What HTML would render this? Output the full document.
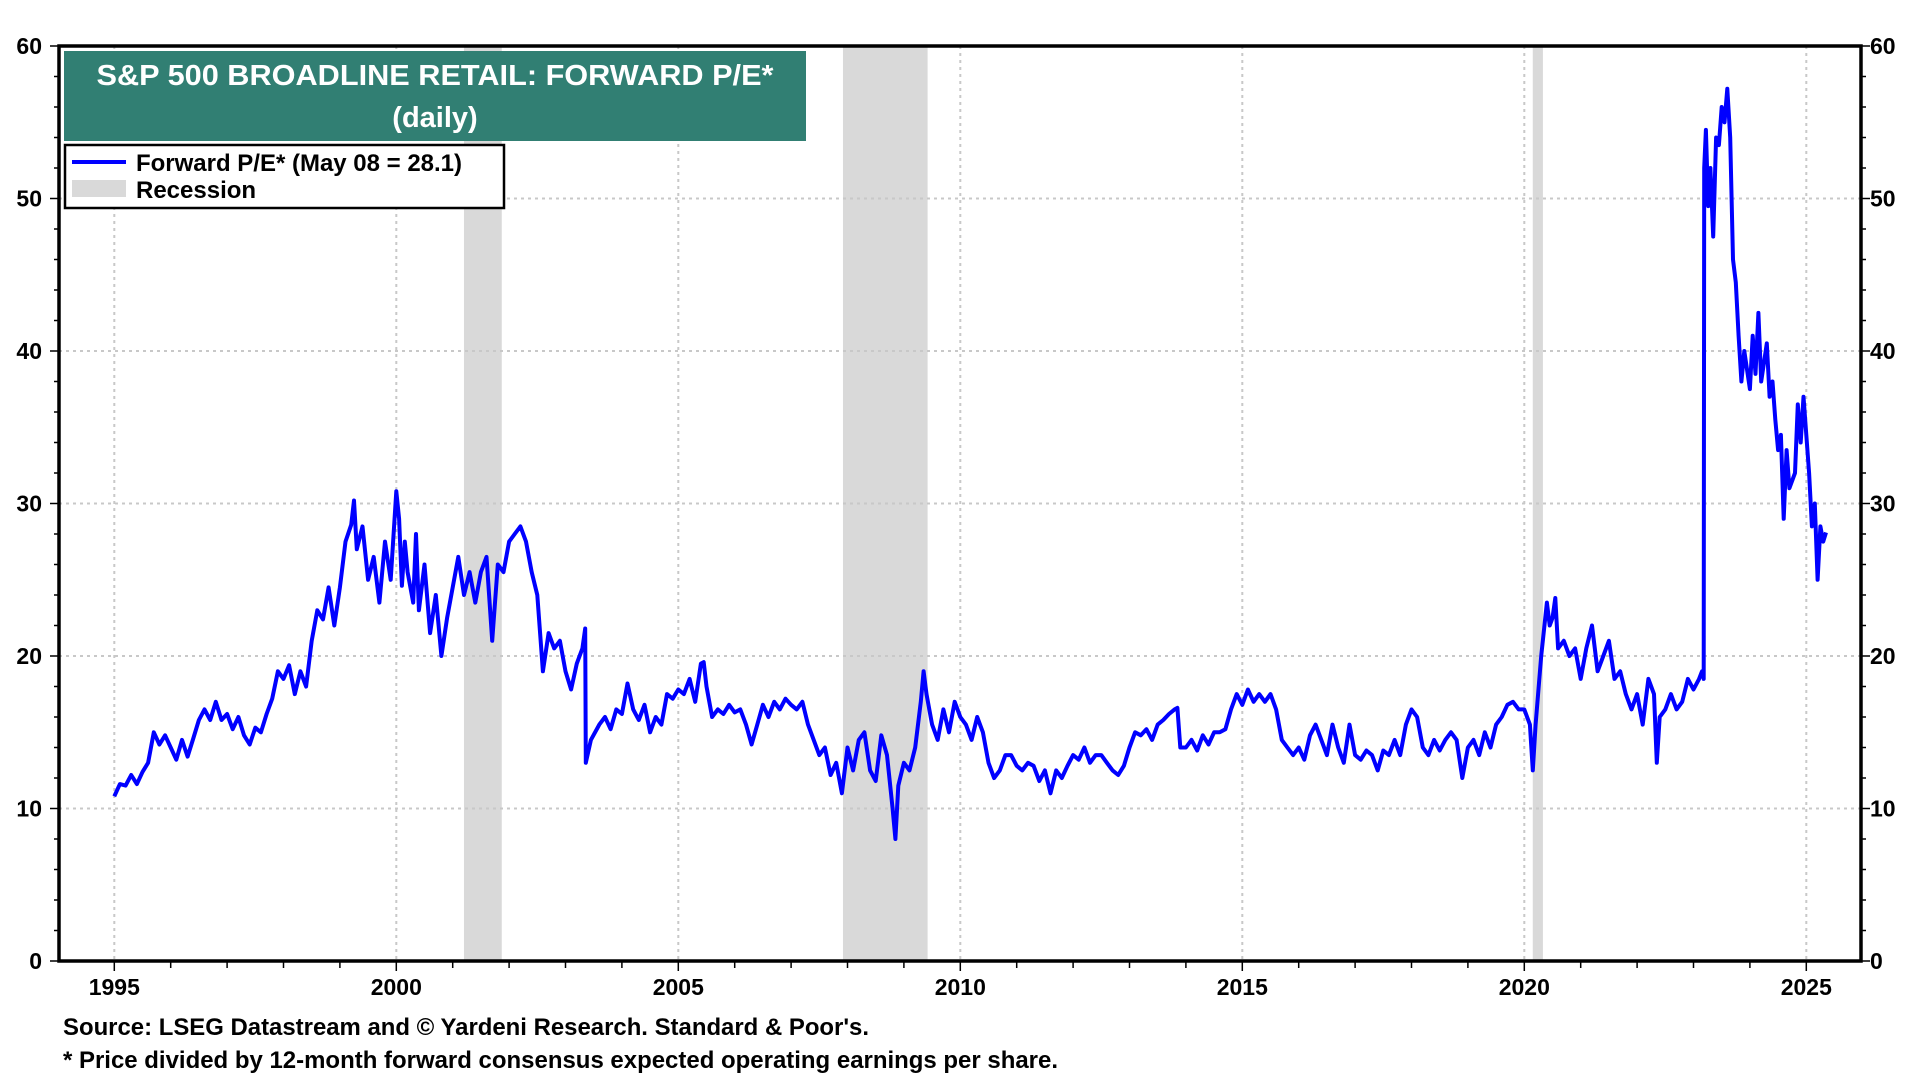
<!DOCTYPE html>
<html><head><meta charset="utf-8"><style>
html,body{margin:0;padding:0;background:#fff}
svg{display:block;font-family:"Liberation Sans",Arial,sans-serif;font-weight:bold}
</style></head><body>
<svg id="chart" width="1920" height="1080" viewBox="0 0 1920 1080">
<g id="bands"></g>
<g id="grid"></g>
<g id="axes"></g>
<path id="line" fill="none" stroke="#0000ff" stroke-width="4" stroke-linejoin="round"/>
<rect x="64" y="51" width="742" height="90" fill="#317f73"/>
<text x="435" y="85" text-anchor="middle" fill="#fff" font-size="29" textLength="677" lengthAdjust="spacingAndGlyphs">S&amp;P 500 BROADLINE RETAIL: FORWARD P/E*</text>
<text x="435" y="127" text-anchor="middle" fill="#fff" font-size="29">(daily)</text>
<g>
<rect x="65" y="145" width="439" height="63" fill="#fff" stroke="#000" stroke-width="2.5"/>
<line x1="72" y1="162" x2="126" y2="162" stroke="#0000ff" stroke-width="4"/>
<text x="136" y="171" font-size="24" textLength="326" lengthAdjust="spacingAndGlyphs">Forward P/E* (May 08 = 28.1)</text>
<rect x="72" y="180" width="54" height="17" fill="#d9d9d9"/>
<text x="136" y="198" font-size="24">Recession</text>
</g>
<text x="63" y="1035" font-size="24" textLength="806" lengthAdjust="spacingAndGlyphs">Source: LSEG Datastream and © Yardeni Research. Standard &amp; Poor's.</text>
<text x="63" y="1068" font-size="24" textLength="995" lengthAdjust="spacingAndGlyphs">* Price divided by 12-month forward consensus expected operating earnings per share.</text>
</svg>
<script>
const years = [1995.0,1995.1,1995.2,1995.3,1995.4,1995.5,1995.6,1995.7,1995.8,1995.9,1996.0,1996.1,1996.2,1996.3,1996.4,1996.5,1996.6,1996.7,1996.8,1996.9,1997.0,1997.1,1997.2,1997.3,1997.4,1997.5,1997.6,1997.7,1997.8,1997.9,1998.0,1998.1,1998.2,1998.3,1998.4,1998.5,1998.6,1998.7,1998.8,1998.9,1999.0,1999.1,1999.2,1999.25,1999.3,1999.4,1999.5,1999.6,1999.7,1999.8,1999.9,2000.0,2000.05,2000.1,2000.15,2000.2,2000.3,2000.35,2000.4,2000.5,2000.6,2000.7,2000.8,2000.9,2001.0,2001.1,2001.2,2001.3,2001.4,2001.5,2001.6,2001.7,2001.8,2001.9,2002.0,2002.1,2002.2,2002.3,2002.4,2002.5,2002.6,2002.7,2002.8,2002.9,2003.0,2003.1,2003.2,2003.3,2003.35,2003.36,2003.45,2003.6,2003.7,2003.8,2003.9,2004.0,2004.1,2004.2,2004.3,2004.4,2004.5,2004.6,2004.7,2004.8,2004.9,2005.0,2005.1,2005.2,2005.3,2005.4,2005.45,2005.5,2005.6,2005.7,2005.8,2005.9,2006.0,2006.1,2006.2,2006.3,2006.4,2006.5,2006.6,2006.7,2006.8,2006.9,2007.0,2007.1,2007.2,2007.3,2007.4,2007.5,2007.6,2007.7,2007.8,2007.9,2008.0,2008.1,2008.2,2008.3,2008.4,2008.5,2008.6,2008.7,2008.8,2008.85,2008.9,2009.0,2009.1,2009.2,2009.3,2009.35,2009.4,2009.5,2009.6,2009.7,2009.8,2009.9,2010.0,2010.1,2010.2,2010.3,2010.4,2010.5,2010.6,2010.7,2010.8,2010.9,2011.0,2011.1,2011.2,2011.3,2011.4,2011.5,2011.6,2011.7,2011.8,2011.9,2012.0,2012.1,2012.2,2012.3,2012.4,2012.5,2012.6,2012.7,2012.8,2012.9,2013.0,2013.1,2013.2,2013.3,2013.4,2013.5,2013.6,2013.7,2013.8,2013.85,2013.9,2014.0,2014.1,2014.2,2014.3,2014.4,2014.5,2014.6,2014.7,2014.8,2014.9,2015.0,2015.1,2015.2,2015.3,2015.4,2015.5,2015.6,2015.7,2015.8,2015.9,2016.0,2016.1,2016.2,2016.3,2016.4,2016.5,2016.6,2016.7,2016.8,2016.9,2017.0,2017.1,2017.2,2017.3,2017.4,2017.5,2017.6,2017.7,2017.8,2017.9,2018.0,2018.1,2018.2,2018.3,2018.4,2018.5,2018.6,2018.7,2018.8,2018.9,2019.0,2019.1,2019.2,2019.3,2019.4,2019.5,2019.6,2019.7,2019.8,2019.9,2020.0,2020.1,2020.15,2020.2,2020.3,2020.4,2020.45,2020.5,2020.55,2020.6,2020.7,2020.8,2020.9,2021.0,2021.1,2021.2,2021.3,2021.4,2021.5,2021.6,2021.7,2021.8,2021.9,2022.0,2022.1,2022.2,2022.3,2022.35,2022.4,2022.5,2022.6,2022.7,2022.8,2022.9,2023.0,2023.1,2023.15,2023.18,2023.19,2023.22,2023.26,2023.3,2023.35,2023.4,2023.45,2023.5,2023.55,2023.6,2023.65,2023.7,2023.75,2023.8,2023.85,2023.9,2024.0,2024.05,2024.1,2024.15,2024.2,2024.3,2024.35,2024.4,2024.45,2024.5,2024.55,2024.6,2024.65,2024.7,2024.8,2024.85,2024.9,2024.95,2025.0,2025.05,2025.1,2025.15,2025.2,2025.25,2025.3,2025.35];
const peValues = [10.8,11.6,11.5,12.2,11.6,12.4,13,15,14.2,14.8,14.0,13.2,14.5,13.4,14.6,15.8,16.5,15.8,17,15.8,16.2,15.2,16.0,14.8,14.2,15.3,15.0,16.2,17.2,19.0,18.5,19.4,17.5,19.0,18.0,21.0,23.0,22.4,24.5,22.0,24.5,27.5,28.6,30.2,27.0,28.5,25,26.5,23.5,27.5,25.0,30.8,29.0,24.6,27.5,25.5,23.5,28.0,23.0,26.0,21.5,24.0,20.0,22.5,24.5,26.5,24.0,25.5,23.5,25.5,26.5,21.0,26.0,25.5,27.5,28.0,28.5,27.5,25.5,24.0,19.0,21.5,20.5,21.0,19.0,17.8,19.5,20.5,21.8,13.0,14.5,15.5,16.0,15.2,16.5,16.2,18.2,16.5,15.8,16.8,15.0,16.0,15.5,17.5,17.2,17.8,17.5,18.5,17.0,19.5,19.6,18.0,16.0,16.5,16.2,16.8,16.3,16.5,15.5,14.2,15.5,16.8,16.0,17.0,16.5,17.2,16.8,16.5,17.0,15.5,14.5,13.5,14.0,12.2,13.0,11.0,14.0,12.5,14.5,15.0,12.5,11.8,14.8,13.5,10.0,8.0,11.5,13.0,12.5,14.0,17.0,19.0,17.5,15.5,14.5,16.5,15.0,17.0,16.0,15.5,14.5,16.0,15.0,13.0,12.0,12.5,13.5,13.5,12.8,12.5,13.0,12.8,11.8,12.5,11.0,12.5,12.0,12.8,13.5,13.2,14.0,13.0,13.5,13.5,13.0,12.5,12.2,12.8,14.0,15.0,14.8,15.2,14.5,15.5,15.8,16.2,16.5,16.6,14.0,14.0,14.5,13.8,14.8,14.2,15.0,15.0,15.2,16.5,17.5,16.8,17.8,17.0,17.5,17.0,17.5,16.5,14.5,14.0,13.5,14.0,13.2,14.8,15.5,14.5,13.5,15.5,14.0,13.0,15.5,13.5,13.2,13.8,13.5,12.5,13.8,13.5,14.5,13.5,15.5,16.5,16.0,14.0,13.5,14.5,13.8,14.5,15.0,14.5,12.0,14.0,14.5,13.5,15.0,14.0,15.5,16.0,16.8,17.0,16.5,16.5,15.5,12.5,15.5,20.0,23.5,22.0,22.5,23.8,20.5,21.0,20.0,20.5,18.5,20.5,22.0,19.0,20.0,21.0,18.5,19.0,17.5,16.5,17.5,15.5,18.5,17.5,13.0,16.0,16.5,17.5,16.5,17.0,18.5,17.8,18.5,19.0,18.5,52.0,54.5,49.5,52.0,47.5,54.0,53.5,56.0,55.0,57.2,54.0,46.0,44.5,41.0,38.0,40.0,37.5,41.0,38.5,42.5,38.0,40.5,37.0,38.0,35.5,33.5,34.5,29.0,33.5,31.0,32.0,36.5,34.0,37.0,34.5,32.0,28.5,30.0,25.0,28.5,27.5,28.1];
const yTicks = [0,10,20,30,40,50,60];
const xTickYears = [1995,2000,2005,2010,2015,2020,2025];
const recessionStarts = [2001.2,2007.92,2020.15];
const recessionEnds = [2001.87,2009.42,2020.33];

const NS='http://www.w3.org/2000/svg';
const L=59, R=1861, T=46, B=961;
const X0=114.3, PX=56.4;
function xScale(yr){return X0+(yr-1995)*PX;}
function yScale(v){return B-(v/60)*(B-T);}
function mk(tag,attrs,parent){const e=document.createElementNS(NS,tag);for(const k in attrs)e.setAttribute(k,attrs[k]);parent.appendChild(e);return e;}
const bands=document.getElementById('bands'),grid=document.getElementById('grid'),axes=document.getElementById('axes');
for(let i=0;i<recessionStarts.length;i++){
  const r=mk('rect',{x:xScale(recessionStarts[i]),y:T,width:xScale(recessionEnds[i])-xScale(recessionStarts[i]),height:B-T,fill:'#d9d9d9'},bands);
  
  
}
yTicks.forEach(v=>{
  if(v>0&&v<60){const g=mk('line',{x1:L,x2:R,y1:yScale(v),y2:yScale(v),stroke:'#c8c8c8','stroke-width':2,'stroke-dasharray':'3,4'},grid);
  
  }
  const t1=mk('text',{x:42,y:yScale(v)+8,'text-anchor':'end','font-size':23},axes);t1.textContent=v;
  
  
  const t2=mk('text',{x:1870,y:yScale(v)+8,'font-size':23},axes);t2.textContent=v;
  
  
});
for(let v=0;v<=60;v+=2){const big=v%10===0;
  mk('line',{x1:L-(big?9:5),x2:L,y1:yScale(v),y2:yScale(v),stroke:'#000','stroke-width':1.5},axes);
  mk('line',{x1:R,x2:R+(big?9:5),y1:yScale(v),y2:yScale(v),stroke:'#000','stroke-width':1.5},axes);}
xTickYears.forEach(yr=>{
  const g=mk('line',{x1:xScale(yr),x2:xScale(yr),y1:T,y2:B,stroke:'#c8c8c8','stroke-width':2,'stroke-dasharray':'3,4'},grid);
  
  
  const t=mk('text',{x:xScale(yr),y:995,'text-anchor':'middle','font-size':23},axes);t.textContent=yr;
  
  
});
for(let yr=1994;yr<=2026;yr++){const x=xScale(yr);if(x<L||x>R)continue;
  mk('line',{x1:x,x2:x,y1:B,y2:B+(yr%5===0?10:7),stroke:'#000','stroke-width':1.5},axes);}
mk('rect',{x:L,y:T,width:R-L,height:B-T,fill:'none',stroke:'#000','stroke-width':3.5},axes);
let d='';
for(let i=0;i<years.length;i++){d+=(i?'L':'M')+xScale(years[i]).toFixed(1)+','+yScale(peValues[i]).toFixed(1);}
document.getElementById('line').setAttribute('d',d);
</script>
</body></html>
